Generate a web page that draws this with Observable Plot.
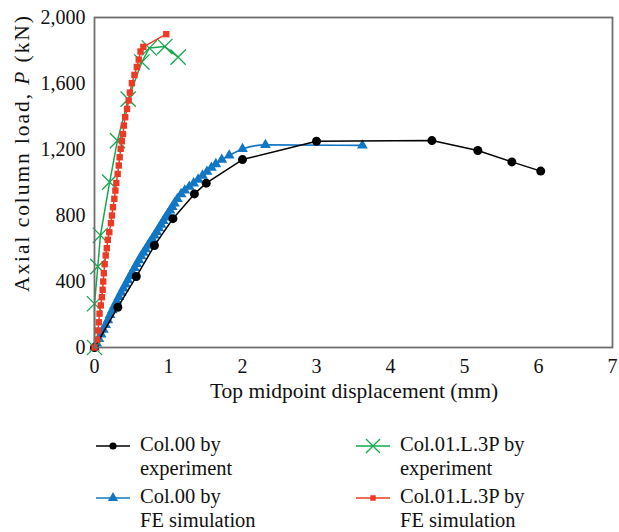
<!DOCTYPE html>
<html>
<head>
<meta charset="utf-8">
<script src="https://cdn.jsdelivr.net/npm/d3@7"></script>
<script src="https://cdn.jsdelivr.net/npm/@observablehq/plot@0.6"></script>
<style>
  body { margin: 0; background: #fff; }
  #wrap { position: relative; width: 619px; height: 532px; font-family: "Liberation Serif", "DejaVu Serif", serif; color: #111; }
  .leg { position: absolute; font-size: 20.5px; line-height: 23.5px; }
  .sym { position: absolute; }
</style>
</head>
<body>
<div id="wrap"></div>
<script>
// Col.00 by experiment
const col00ExpX = [0, 0.315, 0.565, 0.81, 1.06, 1.35, 1.51, 2.0, 3.0, 4.56, 5.18, 5.64, 6.03];
const col00ExpY = [0, 244, 430, 618, 781, 931, 996, 1139, 1250, 1254, 1194, 1125, 1069];

// Col.00 by FE simulation
const col00FeX = [0, 0.03, 0.06, 0.09, 0.12, 0.15, 0.18, 0.21, 0.24, 0.27, 0.30, 0.33, 0.36, 0.39,
  0.42, 0.45, 0.48, 0.51, 0.54, 0.57, 0.60, 0.63, 0.66, 0.69, 0.72, 0.75, 0.78, 0.81, 0.84, 0.87,
  0.90, 0.93, 0.96, 0.99, 1.02, 1.05, 1.08, 1.12, 1.17, 1.22, 1.28, 1.34, 1.40, 1.46, 1.52, 1.58,
  1.64, 1.72, 1.82, 2.0, 2.31, 3.62];
const col00FeY = [0, 25, 52, 80, 108, 137, 166, 197, 226, 254, 280, 306, 333, 358,
  383, 408, 433, 457, 482, 506, 530, 553, 575, 596, 617, 638, 659, 680, 701, 723,
  745, 767, 789, 810, 831, 852, 874, 900, 930, 952, 975, 995, 1018, 1042, 1066, 1090,
  1112, 1138, 1164, 1203, 1228, 1225];

// Col.01.L.3P by experiment
const col01ExpX = [0, 0.0, 0.045, 0.08, 0.205, 0.31, 0.455, 0.64, 0.74, 0.95, 1.13];
const col01ExpY = [0, 265, 490, 680, 1002, 1254, 1505, 1730, 1815, 1824, 1760];

// Col.01.L.3P by FE simulation
const col01FeX = [0, 0.035, 0.048, 0.058, 0.068, 0.085, 0.1, 0.11, 0.118, 0.126, 0.137, 0.152, 0.166,
  0.18, 0.2, 0.222, 0.236, 0.25, 0.268, 0.282, 0.295, 0.313, 0.328, 0.34, 0.354, 0.37, 0.385,
  0.397, 0.415, 0.44, 0.462, 0.478, 0.505, 0.54, 0.572, 0.598, 0.622, 0.66, 0.97];
const col01FeY = [0, 48, 103, 153, 205, 255, 305, 350, 400, 450, 505, 558, 602,
  653, 699, 754, 800, 850, 901, 951, 997, 1052, 1103, 1153, 1204, 1250, 1293,
  1345, 1396, 1446, 1497, 1545, 1602, 1652, 1700, 1745, 1794, 1822, 1899];

const xTicks = [0, 1, 2, 3, 4, 5, 6, 7];
const yTicks = [0, 400, 800, 1200, 1600, 2000];

const seriesNames = ["Col.00 by experiment", "Col.00 by FE simulation",
  "Col.01.L.3P by experiment", "Col.01.L.3P by FE simulation"];

const toRows = (xs, ys) => xs.map((x, i) => ({x, y: ys[i]}));
const black = toRows(col00ExpX, col00ExpY);
const blue = toRows(col00FeX, col00FeY);
const green = toRows(col01ExpX, col01ExpY);
const red = toRows(col01FeX, col01FeY);

const C = {black: "#000000", blue: "#1177c4", green: "#15a84f", red: "#ee3a24"};

const plot = Plot.plot({
  width: 619,
  height: 410,
  marginLeft: 94,
  marginRight: 7,
  marginTop: 17,
  marginBottom: 63,
  style: {fontFamily: "'Liberation Serif', serif", fontSize: "20px", color: "#111", background: "#fff", overflow: "visible"},
  x: {domain: [0, 7], ticks: xTicks, tickSize: 0, tickPadding: 11, tickFormat: d3.format("d"), label: null},
  y: {domain: [0, 2000], ticks: yTicks, tickSize: 0, tickPadding: 9, tickFormat: d3.format(","), label: null},
  marks: [
    Plot.line(blue, {x: "x", y: "y", stroke: C.blue, strokeWidth: 1.6, curve: "monotone-x"}),
    Plot.dot(blue, {x: "x", y: "y", symbol: "triangle", r: 4, fill: C.blue, stroke: "none"}),
    Plot.line(black, {x: "x", y: "y", stroke: C.black, strokeWidth: 1.5}),
    Plot.dot(black, {x: "x", y: "y", symbol: "circle", r: 4.5, fill: C.black, stroke: "none"}),
    Plot.line(green, {x: "x", y: "y", stroke: C.green, strokeWidth: 1.5}),
    Plot.dot(green, {x: "x", y: "y", symbol: "times", r: 7, stroke: C.green, strokeWidth: 1.3}),
    Plot.line(red, {x: "x", y: "y", stroke: C.red, strokeWidth: 1.5}),
    Plot.dot(red, {x: "x", y: "y", symbol: "square", r: 3.6, fill: C.red, stroke: "none"}),
    Plot.frame({stroke: "#6e6e6e", strokeWidth: 1.8})
  ]
});

const wrap = document.getElementById("wrap");
wrap.appendChild(plot);
const svg = d3.select(plot);

// y-axis title with italic P
const yt = svg.append("text")
  .attr("transform", "translate(22,154) rotate(-90)")
  .attr("text-anchor", "middle")
  .attr("dominant-baseline", "central")
  .attr("fill", "#111")
  .attr("textLength", 276)
  .attr("lengthAdjust", "spacing")
  .style("font-size", "21.5px");
yt.append("tspan").text("Axial column load, ");
yt.append("tspan").style("font-style", "italic").text("P");
yt.append("tspan").text(" (kN)");

// x-axis title
svg.append("text")
  .attr("x", 354).attr("y", 391)
  .attr("text-anchor", "middle")
  .attr("dominant-baseline", "central")
  .attr("fill", "#111")
  .style("font-size", "21.5px")
  .text("Top midpoint displacement (mm)");

// Legend
const legItems = [
  {name: seriesNames[0], l1: "Col.00 by", l2: "experiment", color: C.black, sym: d3.symbolCircle, size: 40, fill: true, left: 96, top: 433},
  {name: seriesNames[1], l1: "Col.00 by", l2: "FE simulation", color: C.blue, sym: d3.symbolTriangle, size: 45, fill: true, left: 96, top: 485},
  {name: seriesNames[2], l1: "Col.01.L.3P by", l2: "experiment", color: C.green, sym: d3.symbolTimes, size: 130, fill: false, left: 356, top: 433},
  {name: seriesNames[3], l1: "Col.01.L.3P by", l2: "FE simulation", color: C.red, sym: d3.symbolSquare, size: 30, fill: true, left: 356, top: 485}
];
for (const it of legItems) {
  const s = d3.create("svg").attr("class", "sym").attr("width", 36).attr("height", 20)
    .style("left", it.left + "px").style("top", (it.top + 2.5) + "px");
  s.append("line").attr("x1", 0).attr("x2", 34).attr("y1", 10).attr("y2", 10)
    .attr("stroke", it.color).attr("stroke-width", 1.6);
  s.append("path").attr("transform", "translate(17,10)")
    .attr("d", d3.symbol(it.sym, it.size)())
    .attr("fill", it.fill ? it.color : "none")
    .attr("stroke", it.fill ? "none" : it.color).attr("stroke-width", 1.3);
  wrap.appendChild(s.node());
  const t = document.createElement("div");
  t.className = "leg";
  t.style.left = (it.left + 44) + "px";
  t.style.top = it.top + "px";
  t.innerHTML = it.l1 + "<br>" + it.l2;
  wrap.appendChild(t);
}
</script>
</body>
</html>
